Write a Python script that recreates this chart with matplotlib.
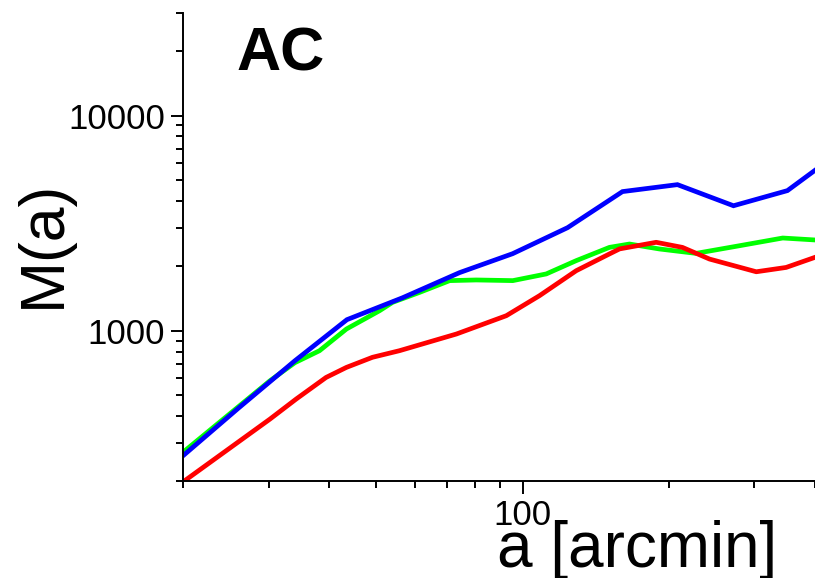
import matplotlib
matplotlib.use("Agg")
import matplotlib.pyplot as plt
from matplotlib.ticker import LogLocator, NullFormatter, FixedLocator, FixedFormatter

plt.rcParams['font.family'] = ['Liberation Sans', 'DejaVu Sans']

# scale a [arcmin] and M(a)
blue_a = [20, 26, 34, 43.5, 56.6, 74.2, 95.4, 123.8, 160.6, 208.4, 271.8, 351, 466]
blue_m = [262, 436, 725, 1125, 1422, 1862, 2280, 3013, 4433, 4776, 3810, 4480, 7180]

green_a = [20, 30.2, 34, 38.2, 43.4, 50.8, 54, 61.4, 70.8, 80.3, 95.5, 111.9, 129,
           151, 166, 191.4, 227.6, 279.6, 343.3, 400]
green_m = [272, 585, 710, 807, 1018, 1239, 1354, 1507, 1709, 1721, 1709, 1836, 2117,
           2440, 2529, 2398, 2288, 2483, 2697, 2641]

red_a = [20, 30.2, 34.2, 39.4, 43.4, 49.1, 55.8, 73.1, 92.6, 108.4, 129, 151, 158.4,
         188.4, 213.4, 242.6, 302.8, 348.8, 400]
red_m = [198, 388, 481, 606, 675, 752, 807, 965, 1174, 1455, 1901, 2275, 2400,
         2576, 2439, 2153, 1879, 1968, 2193]

fig = plt.figure(figsize=(8.15, 5.78), dpi=100)
ax = fig.add_axes([183 / 815, 97 / 578, 632 / 815, 468 / 578])

ax.plot(green_a, green_m, color='#00ff00', lw=3.4, solid_joinstyle='round')
ax.plot(red_a, red_m, color='#ff0000', lw=3.4, solid_joinstyle='round')
ax.plot(blue_a, blue_m, color='#0000ff', lw=3.4, solid_joinstyle='miter')

ax.set_xscale('log')
ax.set_yscale('log')
ax.set_xlim(20, 400)
ax.set_ylim(200, 30000)

for s in ['top', 'right']:
    ax.spines[s].set_visible(False)
for s in ['left', 'bottom']:
    ax.spines[s].set_linewidth(1.4)

ax.xaxis.set_major_locator(FixedLocator([100]))
ax.xaxis.set_major_formatter(FixedFormatter(['100']))
ax.xaxis.set_minor_locator(LogLocator(base=10, subs=range(2, 10)))
ax.xaxis.set_minor_formatter(NullFormatter())
ax.yaxis.set_major_locator(FixedLocator([1000, 10000]))
ax.yaxis.set_major_formatter(FixedFormatter(['1000', '10000']))
ax.yaxis.set_minor_locator(LogLocator(base=10, subs=range(2, 10)))
ax.yaxis.set_minor_formatter(NullFormatter())

ax.tick_params(which='major', length=9, width=1.4, labelsize=25, pad=4)
ax.tick_params(which='minor', length=5, width=1.4)

ax.set_xlabel('a [arcmin]', fontsize=46)
ax.xaxis.label.set_va('baseline')
ax.xaxis.set_label_coords(0.718, -0.184)
ax.set_ylabel('M(a)', fontsize=45)
ax.yaxis.label.set_va('baseline')
ax.yaxis.set_label_coords(-0.195, 0.507)

ax.text(0.085, 0.878, 'AC', transform=ax.transAxes, fontsize=44,
        fontweight='bold', va='baseline', ha='left')

fig.savefig('out.png', dpi=100)
